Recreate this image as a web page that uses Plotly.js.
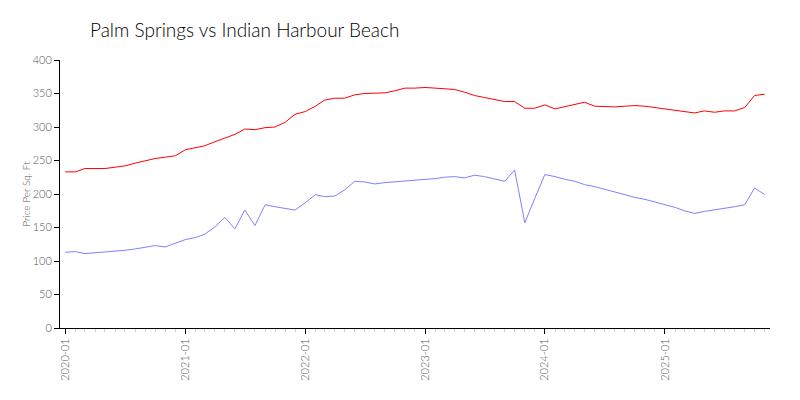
<!DOCTYPE html>
<html>
<head>
<meta charset="utf-8">
<script src="https://cdn.plot.ly/plotly-3.0.1.min.js"></script>
<style>html,body{margin:0;padding:0;background:#fff;}#chart{width:800px;height:400px;}</style>
</head>
<body>
<div id="chart"></div>
<script>
// Months 2020-01 .. 2025-11
const startYear = 2020;
const monthCount = 71;
const months = [];
for (let i = 0; i < monthCount; i++) {
  const y = startYear + Math.floor(i / 12);
  const m = (i % 12) + 1;
  months.push(y + '-' + (m < 10 ? '0' + m : m) + '-01');
}

const palmSprings = [
  233, 233, 238, 238, 238, 240, 242, 246, 250, 253, 255, 257,
  266, 269, 272, 278, 284, 289, 297, 296, 299, 300, 307, 319,
  323, 331, 340, 343, 343, 348, 350, 351, 351, 354, 358, 358,
  359, 358, 357, 356, 352, 347, 344, 341, 338, 338, 328, 328,
  333, 327, 330, 333, 337, 331, 330, 330, 331, 332, 331, 329,
  327, 325, 324, 321, 324, 322, 324, 324, 329, 347, 349
];

const indianHarbour = [
  113, 114, 111, 112, 113, 114, 116, 118, 120, 123, 121, 126,
  132, 135, 140, 151, 165, 148, 176, 153, 184, 181, 178, 176,
  187, 199, 196, 197, 206, 219, 218, 215, 217, 218, 220, 221,
  222, 223, 225, 226, 224, 228, 226, 223, 219, 236, 157, 193,
  229, 226, 222, 219, 214, 211, 207, 203, 199, 195, 192, 188,
  184, 180, 175, 171, 174, 176, 178, 181, 184, 209, 199
];

const tickVals = ['2020-01-01','2021-01-01','2022-01-01','2023-01-01','2024-01-01','2025-01-01'];
const tickText = ['2020-01','2021-01','2022-01','2023-01','2024-01','2025-01'];
const yTicks = [0, 50, 100, 150, 200, 250, 300, 350, 400];

const font = 'Lato, "Open Sans", sans-serif';

const traces = [
  {x: months, y: palmSprings, type: 'scatter', mode: 'lines', name: 'Palm Springs',
   line: {color: '#ff0000', width: 1}},
  {x: months, y: indianHarbour, type: 'scatter', mode: 'lines', name: 'Indian Harbour Beach',
   line: {color: '#8080ff', width: 1}}
];

const layout = {
  width: 800, height: 400,
  margin: {l: 60, r: 30, t: 60, b: 72},
  paper_bgcolor: '#fff', plot_bgcolor: '#fff',
  showlegend: false,
  font: {family: font, color: '#666', weight: 300},
  title: {text: 'Palm Springs vs Indian Harbour Beach', x: 0.1125, xanchor: 'left',
          y: 0.925, yanchor: 'middle', font: {family: font, size: 19, color: '#000', weight: 300}},
  xaxis: {
    type: 'date', range: ['2019-12-16', '2025-11-17'],
    tickvals: tickVals, ticktext: tickText, tickangle: -90,
    ticks: 'outside', ticklen: 5, tickcolor: '#000',
    showline: true, linecolor: '#000', linewidth: 1,
    showgrid: false, zeroline: false,
    tickfont: {size: 11, color: '#555', weight: 300},
    minor: {dtick: 'M1', ticks: 'outside', ticklen: 3, tickcolor: '#ccc', showgrid: false}
  },
  yaxis: {
    range: [0, 400], tickvals: yTicks,
    ticks: 'outside', ticklen: 5, tickcolor: '#000',
    showline: true, linecolor: '#000', linewidth: 1,
    showgrid: false, zeroline: false,
    tickfont: {size: 11, color: '#555', weight: 300},
    title: {text: 'Price Per Sq. Ft', font: {size: 10, color: '#555', weight: 300}, standoff: 0}
  }
};

Plotly.newPlot('chart', traces, layout, {displayModeBar: false, staticPlot: true});
</script>
</body>
</html>
